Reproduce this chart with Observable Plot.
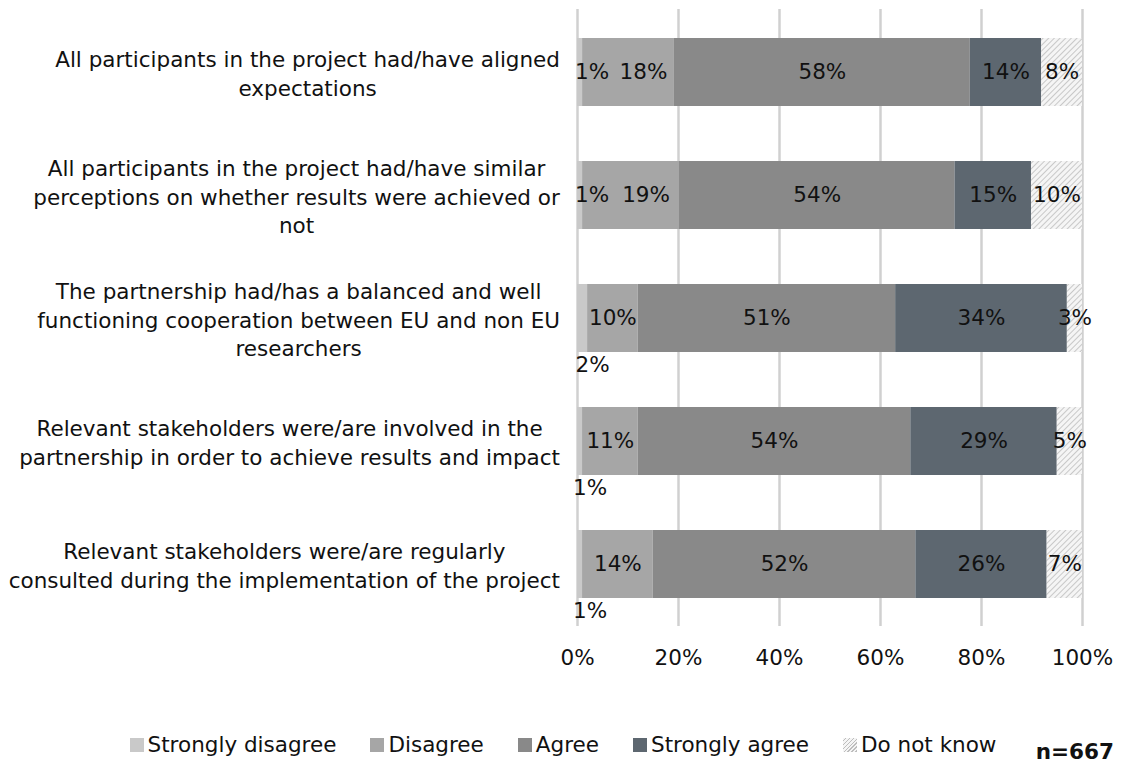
<!DOCTYPE html>
<html>
<head>
<meta charset="utf-8">
<script src="https://cdn.jsdelivr.net/npm/d3@7"></script>
<script src="https://cdn.jsdelivr.net/npm/@observablehq/plot@0.6"></script>
<style>
  html, body { margin: 0; padding: 0; background: #fff; }
  body { width: 1126px; height: 767px; overflow: hidden; font-family: "DejaVu Sans", Verdana, sans-serif; color: #111; }
  #legend { position: relative; width: 1126px; height: 67px; font-size: 21.5px; }
  #legend .items { position: absolute; top: 32px; left: 0; width: 1126px; display: flex; justify-content: center; gap: 34px; line-height: 26px; }
  #legend .item { display: flex; align-items: center; white-space: nowrap; }
  #legend .sw { width: 14px; height: 14px; margin-right: 4px; display: inline-block; }
  #legend .n { position: absolute; right: 12px; top: 39px; font-weight: bold; line-height: 26px; }
</style>
</head>
<body>
<div id="chart"></div>
<div id="legend"></div>
<script>
const categories = [
  "All participants in the project had/have aligned\nexpectations",
  "All participants in the project had/have similar\nperceptions on whether results were achieved or\nnot",
  "The partnership had/has a balanced and well\nfunctioning cooperation between EU and non EU\nresearchers",
  "Relevant stakeholders were/are involved in the\npartnership in order to achieve results and impact",
  "Relevant stakeholders were/are regularly\nconsulted during the implementation of the project"
];
const responses = ["Strongly disagree", "Disagree", "Agree", "Strongly agree", "Do not know"];
const stronglyDisagree = [1, 1, 2, 1, 1];
const disagree = [18, 19, 10, 11, 14];
const agree = [58, 54, 51, 54, 52];
const stronglyAgree = [14, 15, 34, 29, 26];
const doNotKnow = [8, 10, 3, 5, 7];
const xTicks = [0, 0.2, 0.4, 0.6, 0.8, 1];
const sampleLabel = "n=667";

const colors = ["#c9c9c9", "#a6a6a6", "#898989", "#5d6770", "url(#hatch)"];
const series = [stronglyDisagree, disagree, agree, stronglyAgree, doNotKnow];

const table = categories.flatMap((q, qi) =>
  responses.map((r, ri) => ({question: q, qi, response: r, value: series[ri][qi]}))
);

const pct = d => `${d.value}%`;
const tickFormat = d => `${Math.round(d * 100)}%`;
const stackOpts = {y: "question", x: "value", z: "response", offset: "normalize"};

const isSD = d => d.response === "Strongly disagree";
const isD = d => d.response === "Disagree";
const ink = "#111";

const chart = Plot.plot({
  width: 1126,
  height: 700,
  marginLeft: 577,
  marginRight: 44,
  marginTop: 9,
  marginBottom: 74,
  style: {fontFamily: "DejaVu Sans, Verdana, sans-serif", fontSize: "21.5px", color: ink, background: "white"},
  x: {domain: [0, 1], label: null},
  y: {domain: categories, paddingInner: 0.45, paddingOuter: 0.225, label: null},
  color: {domain: responses, range: colors, type: "ordinal"},
  marks: [
    Plot.gridX(xTicks, {stroke: "#d0d0d0", strokeWidth: 2.5, strokeOpacity: 1}),
    Plot.barX(table, Plot.stackX({...stackOpts, fill: "response"})),
    Plot.axisX(xTicks, {tickSize: 0, tickPadding: 23, tickFormat, label: null}),
    Plot.axisY({tickSize: 0, tickPadding: 0, textAnchor: "middle", lineHeight: 1.33, dx: -270, label: null}),
    // centered labels
    Plot.text(table, Plot.stackX({...stackOpts, text: d => (isSD(d) || (isD(d) && d.qi < 2)) ? "" : pct(d), fill: ink})),
    // disagree labels nudged right (rows with inside 1% label)
    Plot.text(table, Plot.stackX({...stackOpts, text: d => (isD(d) && d.qi < 2) ? pct(d) : "", dx: 15, fill: ink})),
    // strongly disagree labels inside
    Plot.text(table, Plot.stackX({...stackOpts, text: d => (isSD(d) && d.qi < 2) ? pct(d) : "", dx: 12, fill: ink})),
    // strongly disagree labels below the bar
    Plot.text(table, Plot.stackX({...stackOpts, text: d => (isSD(d) && d.qi >= 2) ? pct(d) : "", dx: 10, dy: 47, fill: ink}))
  ]
});

chart.insertAdjacentHTML("afterbegin",
  `<defs><pattern id="hatch" patternUnits="userSpaceOnUse" width="4" height="4" patternTransform="rotate(45)">
     <rect width="4" height="4" fill="#f5f5f5"></rect>
     <line x1="0" y1="0" x2="0" y2="4" stroke="#bdbdbd" stroke-width="1.6"></line>
   </pattern></defs>`);

document.getElementById("chart").appendChild(chart);

// align each category label block so its widest line ends near the plot's left edge
const svgRect = chart.getBoundingClientRect();
chart.querySelectorAll('g[aria-label="y-axis tick label"] text').forEach(t => {
  const r = t.getBoundingClientRect();
  const right = r.right - svgRect.left;
  const shift = 560 - right;
  t.setAttribute("transform", (t.getAttribute("transform") || "") + ` translate(${shift},0)`);
});

// legend
const legend = d3.select("#legend");
const items = legend.append("div").attr("class", "items");
responses.forEach((r, i) => {
  const it = items.append("div").attr("class", "item");
  const sw = it.append("span").attr("class", "sw");
  if (colors[i].startsWith("url")) {
    sw.style("background", "repeating-linear-gradient(135deg, #f5f5f5 0px, #f5f5f5 1.5px, #bdbdbd 1.5px, #bdbdbd 2.8px)");
  } else {
    sw.style("background", colors[i]);
  }
  it.append("span").text(r);
});
legend.append("div").attr("class", "n").text(sampleLabel);
</script>
</body>
</html>
